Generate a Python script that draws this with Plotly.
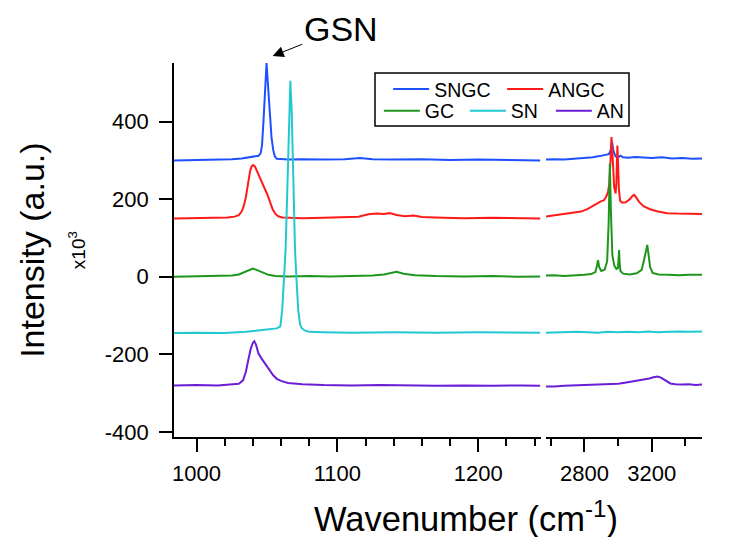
import plotly.graph_objects as go

# ---------------- data ----------------
series_names = ["SNGC", "ANGC", "GC", "SN", "AN"]
series_colors = ["#1f50ff", "#ff1a1a", "#1e961e", "#22c8d0", "#6a1fd6"]

# left wavenumber window (~984-1244 cm-1)
SNGC_left_x = [984, 995, 1005, 1015, 1025, 1032, 1036, 1039, 1042, 1044, 1045.5, 1046.5, 1047.5, 1048.5,
               1049.7, 1050.8, 1052, 1053.2, 1054.4, 1055.6, 1057, 1060, 1065, 1075, 1090, 1105, 1116,
               1125, 1140, 1160, 1180, 1200, 1220, 1244]
SNGC_left_y = [300, 301, 300, 302, 303, 305, 307, 309, 310, 312, 318, 340, 400, 480,
               551, 490, 415, 360, 327, 310, 304, 303, 302, 303, 302, 303, 306,
               303, 302, 303, 301, 302, 301, 300]

ANGC_left_x = [984, 995, 1005, 1015, 1022, 1027, 1030, 1032, 1033.5, 1035, 1036.5, 1038, 1039.2, 1040.2,
               1041.5, 1043, 1045, 1047.5, 1050, 1052, 1054, 1056, 1058, 1061, 1066, 1075, 1090, 1105,
               1115, 1122, 1128, 1133, 1137, 1142, 1148, 1154, 1160, 1175, 1190, 1210, 1228, 1244]
ANGC_left_y = [150, 151, 150, 152, 153, 155, 159, 168, 182, 205, 240, 272, 285, 288,
               284, 272, 258, 236, 214, 195, 174, 162, 156, 153, 152, 151, 152, 153,
               155, 161, 163, 162, 164, 159, 156, 158, 154, 152, 151, 152, 151, 150]

GC_left_x = [984, 995, 1005, 1015, 1025, 1030, 1034, 1037, 1040, 1043, 1047, 1051, 1056, 1065, 1080,
             1095, 1110, 1125, 1133, 1138, 1142, 1147, 1155, 1170, 1190, 1210, 1228, 1244]
GC_left_y = [0, 1, 0, 2, 3, 6, 12, 18, 21, 17, 10, 5, 2, 1, 2,
             1, 2, 3, 6, 10, 13, 8, 4, 2, 1, 2, 0, 1]

SN_left_x = [984, 1000, 1020, 1035, 1045, 1052, 1057, 1059.5, 1060.8, 1062, 1063.2, 1064.4, 1065.6,
             1066.6, 1067.6, 1068.8, 1069.9, 1071, 1072.2, 1073.4, 1074.6, 1077, 1080, 1090, 1110,
             1140, 1170, 1200, 1244]
SN_left_y = [-145, -144, -145, -142, -138, -136, -133, -128, -86, -10, 69, 220, 420,
             505, 420, 220, 69, -10, -86, -122, -132, -139, -142, -143, -144,
             -143, -144, -143, -144]

AN_left_x = [984, 1000, 1015, 1025, 1030, 1033, 1035, 1036.7, 1038.5, 1040, 1041, 1042.2, 1044, 1046.2,
             1048, 1049.7, 1052, 1054.4, 1057, 1060.4, 1065, 1075, 1090, 1110, 1130, 1150, 1170, 1190,
             1210, 1230, 1244]
AN_left_y = [-280, -279, -280, -278, -276, -267, -245, -215, -185, -170, -166, -175, -198, -211,
             -220, -228, -242, -254, -263, -269, -274, -277, -279, -280, -279, -280, -281, -280,
             -281, -280, -281]

# right wavenumber window (~2572-3498 cm-1)
SNGC_right_x = [2572, 2620, 2680, 2740, 2800, 2850, 2890, 2920, 2945, 2955, 2964, 2972, 2985, 3000, 3014,
                3030, 3060, 3100, 3150, 3200, 3260, 3320, 3380, 3440, 3498]
SNGC_right_y = [302, 303, 302, 304, 305, 308, 311, 313, 316, 325, 348, 325, 310, 308, 312,
                308, 307, 309, 307, 306, 308, 305, 306, 304, 305]

ANGC_right_x = [2572, 2620, 2680, 2740, 2780, 2820, 2850, 2875, 2900, 2915, 2928, 2940, 2948, 2954, 2958,
                2961, 2965, 2970, 2977, 2985, 2990, 2993, 2996, 3000, 3005, 3012, 3025, 3045, 3070, 3085,
                3095, 3105, 3125, 3150, 3190, 3230, 3290, 3350, 3420, 3498]
ANGC_right_y = [155, 158, 161, 165, 168, 175, 183, 190, 195, 197, 205, 218, 240, 290, 345,
                360, 330, 270, 230, 215, 240, 300, 338, 290, 225, 196, 191, 192, 200, 208,
                211, 206, 193, 182, 174, 169, 164, 163, 162, 162]

GC_right_x = [2572, 2620, 2680, 2740, 2800, 2840, 2865, 2874, 2881, 2888, 2900, 2920, 2935, 2944, 2951,
              2958, 2966, 2978, 2990, 2999, 3003, 3006, 3009, 3014, 3030, 3070, 3110, 3140, 3155, 3166,
              3173, 3180, 3190, 3205, 3240, 3300, 3360, 3420, 3498]
GC_right_y = [3, 4, 2, 3, 5, 7, 12, 28, 43, 25, 15, 18, 40, 140, 292,
              160, 55, 28, 20, 22, 50, 69, 35, 15, 8, 6, 9, 18, 45, 75,
              82, 60, 25, 10, 6, 5, 4, 5, 5]

SN_right_x = [2572, 2640, 2700, 2760, 2820, 2880, 2940, 3000, 3060, 3120, 3180, 3240, 3300, 3360, 3420, 3498]
SN_right_y = [-144, -143, -144, -142, -143, -144, -142, -143, -142, -143, -141, -143, -142, -141, -142, -141]

AN_right_x = [2572, 2620, 2680, 2740, 2800, 2860, 2920, 2960, 3000, 3040, 3070, 3110, 3150, 3185, 3210,
              3234, 3255, 3275, 3295, 3310, 3340, 3380, 3420, 3460, 3498]
AN_right_y = [-283, -283, -281, -280, -279, -278, -276, -275, -276, -273, -271, -268, -265, -262, -259,
              -257, -260, -266, -272, -275, -277, -278, -277, -279, -278]

y_tickvals = [-400, -200, 0, 200, 400]
y_ticktext = ["-400", "-200", "0", "200", "400"]

left_x = [SNGC_left_x, ANGC_left_x, GC_left_x, SN_left_x, AN_left_x]
left_y = [SNGC_left_y, ANGC_left_y, GC_left_y, SN_left_y, AN_left_y]
right_x = [SNGC_right_x, ANGC_right_x, GC_right_x, SN_right_x, AN_right_x]
right_y = [SNGC_right_y, ANGC_right_y, GC_right_y, SN_right_y, AN_right_y]
legend_of = ["legend", "legend", "legend2", "legend2", "legend2"]

FONT = "Liberation Sans, Arial, sans-serif"

fig = go.Figure()
for i, name in enumerate(series_names):
    fig.add_trace(go.Scatter(x=left_x[i], y=left_y[i], mode="lines", name=name,
                             line=dict(color=series_colors[i], width=2),
                             xaxis="x", yaxis="y", legend=legend_of[i], legendgroup=name))
    fig.add_trace(go.Scatter(x=right_x[i], y=right_y[i], mode="lines", name=name,
                             line=dict(color=series_colors[i], width=2), showlegend=False,
                             xaxis="x2", yaxis="y", legendgroup=name))

axis_common = dict(showline=True, linecolor="black", linewidth=1.8, showgrid=False, zeroline=False,
                   automargin=False,
                   ticks="outside", ticklen=13, tickwidth=1.8, tickcolor="black",
                   tickfont=dict(family=FONT, size=22, color="black"))

fig.update_layout(
    template="none",
    width=738, height=537,
    margin=dict(l=174, r=36, t=63, b=100, autoexpand=False),
    paper_bgcolor="white", plot_bgcolor="white",
    font=dict(family=FONT, color="black"),
    xaxis=dict(domain=[0, 0.6945], range=[984, 1244.3], tickmode="linear", tick0=1000, dtick=100,
               tickformat="d", ticklabelstandoff=3,
               minor=dict(ticks="outside", dtick=20, tick0=1000, ticklen=7, tickwidth=1.8, tickcolor="black",
                          showgrid=False),
               **axis_common),
    xaxis2=dict(domain=[0.7045, 1], range=[2572, 3498], tickmode="linear", tick0=2800, dtick=400,
                tickformat="d", anchor="y", ticklabelstandoff=3,
                minor=dict(ticks="outside", dtick=200, tick0=2600, ticklen=7, tickwidth=1.8, tickcolor="black",
                           showgrid=False),
                **axis_common),
    yaxis=dict(range=[-413, 551], tickmode="array", tickvals=y_tickvals, ticktext=y_ticktext,
               ticklabelstandoff=6, **axis_common),
    legend=dict(orientation="h", x=0.4056, xanchor="left", y=0.9296, yanchor="middle",
                bgcolor="rgba(0,0,0,0)", borderwidth=0, entrywidth=63, itemwidth=36,
                font=dict(family=FONT, size=19.5, color="black")),
    legend2=dict(orientation="h", x=0.388, xanchor="left", y=0.8716, yanchor="middle",
                 bgcolor="rgba(0,0,0,0)", borderwidth=0, entrywidth=35, itemwidth=36,
                 font=dict(family=FONT, size=19.5, color="black")),
    showlegend=True,
)

# legend frame
fig.add_shape(type="rect", xref="paper", yref="paper",
              x0=(375 - 174) / 528, x1=(629 - 174) / 528,
              y0=(436.7 - 126) / 373.7, y1=(436.7 - 73) / 373.7,
              line=dict(color="black", width=1.5), fillcolor="rgba(0,0,0,0)")

fig.add_annotation(text="Wavenumber (cm<sup>-1</sup>)", xref="paper", yref="paper",
                   x=(465.5 - 174) / 528, y=(436.7 - 516) / 373.7, xanchor="center", yanchor="middle",
                   showarrow=False, font=dict(family=FONT, size=34.5, color="black"))
fig.add_annotation(text="Intensity (a.u.)", xref="paper", yref="paper", textangle=-90,
                   x=(31.7 - 174) / 528, y=(436.7 - 250) / 373.7, xanchor="center", yanchor="middle",
                   showarrow=False, font=dict(family=FONT, size=34, color="black"))
fig.add_annotation(text="x10<sup>3</sup>", xref="paper", yref="paper", textangle=-90,
                   x=(77 - 174) / 528, y=(436.7 - 250) / 373.7, xanchor="center", yanchor="middle",
                   showarrow=False, font=dict(family=FONT, size=19, color="black"))
fig.add_annotation(text="GSN", xref="paper", yref="paper",
                   x=(272.7 - 174) / 528, y=(436.7 - 56) / 373.7,
                   ax=68, ay=-27, axref="pixel", ayref="pixel",
                   showarrow=True, arrowhead=2, arrowsize=2.2, arrowwidth=1, arrowcolor="black",
                   font=dict(family=FONT, size=34, color="black"))

fig.write_html("out.html", config={"displayModeBar": False},
               post_script="document.body.style.margin='0';document.body.style.padding='0';")
